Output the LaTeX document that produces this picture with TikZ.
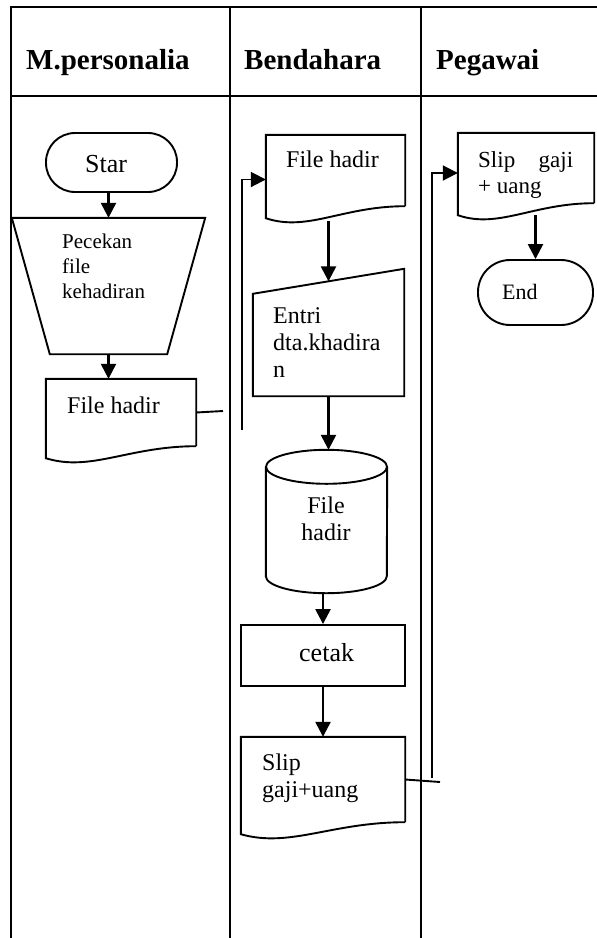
\documentclass[tikz,border=0pt]{standalone}
\usepackage{fontspec}
\setmainfont{Liberation Serif}
\usetikzlibrary{arrows.meta,calc}
\begin{document}
\begin{tikzpicture}[x=1pt,y=-1pt,
    lane/.style={line width=2.8pt},
    shp/.style={line width=1.9pt},
    box/.style={inner sep=0pt},
    flow/.style={line width=2.5pt,-{Triangle[length=15pt,width=15pt]}},
    link/.style={line width=1.9pt},
    hdr/.style={anchor=base west,inner sep=0pt,font=\bfseries\fontsize{29}{33}\selectfont},
    txt/.style={anchor=base west,inner sep=0pt,align=left,font=\fontsize{24}{27}\selectfont}]
  \useasboundingbox (0,0) rectangle (597,938);
  % lanes
  \draw[lane] (11,938) -- (11,7) -- (597,7);
  \draw[lane] (11,96) -- (597,96);
  \draw[lane] (230,7) -- (230,938);
  \draw[lane] (421,7) -- (421,938);
  \node[hdr] (mpers) at (26,69) {M.personalia};
  \node[hdr] (bend) at (244,69) {Bendahara};
  \node[hdr] (peg) at (436,69) {Pegawai};
  % shapes
  \node[box,draw,shp,rounded corners=29pt,minimum width=131,minimum height=59] (star) at (111.5,162.5) {};
  \node[box,minimum width=193,minimum height=136] (trap) at (108.5,286) {};
  \node[box,minimum width=150,minimum height=67] (fh1) at (121,412.5) {};
  \node[box,minimum width=139,minimum height=71] (fh2) at (335.5,170.5) {};
  \node[box,minimum width=151,minimum height=127] (entri) at (328.5,332.5) {};
  \node[box,minimum width=121,minimum height=143] (dbase) at (326.5,521.5) {};
  \node[box,draw,shp,minimum width=164,minimum height=61] (cetak) at (323,655.5) {};
  \node[box,minimum width=164,minimum height=85] (slip2) at (323,779.5) {};
  \node[box,minimum width=136,minimum height=70] (slip3) at (526,168) {};
  \node[box,draw,shp,rounded corners=32pt,minimum width=115,minimum height=65] (endt) at (535.5,292.5) {};
  \draw[shp] (trap.north west) -- (trap.north east) -- ($(trap.south east)+(-38,0)$)
    -- ($(trap.south west)+(38,0)$) -- cycle;
  \coordinate (entriNW) at ($(entri.north west)+(0,25)$);
  \coordinate (entriTop) at ($(entriNW)!0.5!(entri.north east)$);
  \draw[shp] (entriNW) -- (entri.north east) -- (entri.south east) -- (entri.south west) -- cycle;
  \draw[shp] ($(dbase.north west)+(0,17)$) -- ($(dbase.south west)+(0,-17)$)
    arc[start angle=180,end angle=360,x radius=60.5pt,y radius=17pt] -- ($(dbase.north east)+(0,17)$);
  \draw[shp] ($(dbase.north)+(0,17)$) ellipse[x radius=60.5pt,y radius=17pt];
  \foreach \d in {fh1,fh2,slip2,slip3}
    \draw[shp] (\d.south east) -- (\d.north east) -- (\d.north west) -- ($(\d.south west)+(0,12)$)
      .. controls ($(\d.south west)!0.3!(\d.south east)+(0,26)$) and ($(\d.south west)!0.55!(\d.south east)$) .. (\d.south east);
  % texts (base = last line)
  \node[txt,font=\fontsize{26}{30}\selectfont] (starT) at (85,172.5) {Star};
  \node[txt,font=\fontsize{21}{25}\selectfont] (trapT) at (62,298) {Pecekan\\file\\kehadiran};
  \node[txt] (fh1T) at (67,413) {File hadir};
  \node[txt] (fh2T) at (286,167) {File hadir};
  \node[txt] (entriT) at (273,377) {Entri\\dta.khadira\\n};
  \node[txt,anchor=base,align=center] (dbaseT) at (326,540) {File\\hadir};
  \node[txt,font=\fontsize{26}{30}\selectfont] (cetakT) at (299,661) {cetak};
  \node[txt] (slip2T) at (262,797) {Slip\\gaji+uang};
  \node[txt,font=\fontsize{23}{26}\selectfont] (slip3T) at (478,193) {\makebox[95pt][s]{Slip gaji}\\+ uang};
  \node[txt,font=\fontsize{22}{26}\selectfont] (endT) at (502,299) {End};
  % connectors
  \coordinate (gapA) at (223,411);
  \coordinate (loopA) at (242,430);
  \coordinate (gapB) at (440,782);
  \coordinate (loopB) at (432,778);
  \draw[flow] (star.south -| trap.north) -- (trap.north);
  \draw[flow] (trap.south) -- (trap.south |- fh1.north);
  \draw[link] (fh1.east) -- (gapA);
  \draw[link,-{Triangle[length=15pt,width=15pt]}] (loopA) |- ([yshift=-9pt]fh2.west);
  \draw[flow] ($(entriTop |- fh2.south)+(0,15)$) -- (entriTop);
  \draw[flow] (entri.south) -- (entri.south |- dbase.north);
  \draw[flow] (dbase.south -| cetak.north) -- (cetak.north);
  \draw[flow] (cetak.south) -- (slip2.north);
  \draw[link] (slip2.east) -- (gapB);
  \draw[link,-{Triangle[length=15pt,width=15pt]}] (loopB) |- ([yshift=-5pt]slip3.west);
  \draw[flow] ($(slip3.south -| endt.north)+(0,12)$) -- (endt.north);
\end{tikzpicture}
\end{document}
